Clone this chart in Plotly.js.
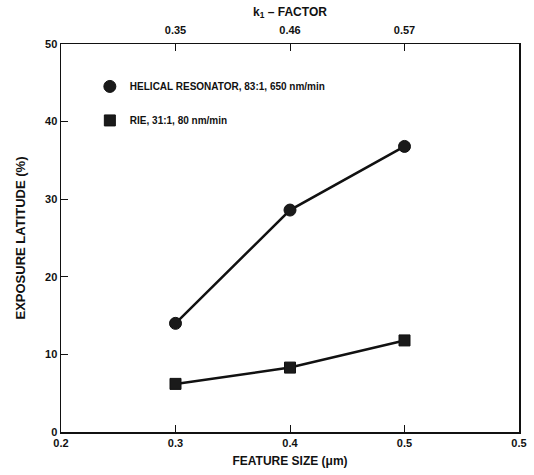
<!DOCTYPE html>
<html>
<head>
<meta charset="utf-8">
<script src="https://cdn.plot.ly/plotly-3.0.1.min.js"></script>
<style>html,body{margin:0;padding:0;background:#fff;}#chart{width:534px;height:475px;}</style>
</head>
<body>
<div id="chart"></div>
<script>
const featureSize = [0.3, 0.4, 0.5];
const helical = [14.0, 28.6, 36.8];
const rie = [6.2, 8.3, 11.8];
const seriesNames = ['HELICAL RESONATOR, 83:1, 650 nm/min', 'RIE, 31:1, 80 nm/min'];
const bottomTickVals = [0.2, 0.3, 0.4, 0.5, 0.6];
const bottomTickText = ['0.2', '0.3', '0.4', '0.5', '0.5'];
const k1TickVals = [0.3, 0.4, 0.5];
const k1TickText = ['0.35', '0.46', '0.57'];
const yTickVals = [0, 10, 20, 30, 40, 50];

const fontFam = 'Liberation Sans, Arial, sans-serif';
const tickFont = {family: fontFam, size: 11, color: '#111', weight: 'bold'};
const circleMarker = {symbol: 'circle', size: 12, color: '#1a1a1a', line: {color: '#111', width: 1}};
const squareMarker = {symbol: 'square', size: 11, color: '#1a1a1a', line: {color: '#111', width: 1}};

const traces = [
  {
    x: featureSize, y: helical, name: seriesNames[0], type: 'scatter', mode: 'lines+markers',
    line: {color: '#111', width: 2.5}, marker: circleMarker, showlegend: false
  },
  {
    x: featureSize, y: rie, name: seriesNames[1], type: 'scatter', mode: 'lines+markers',
    line: {color: '#111', width: 2.5}, marker: squareMarker, showlegend: false
  },
  {
    x: [null], y: [null], name: seriesNames[0], type: 'scatter', mode: 'markers',
    marker: circleMarker, legendgroup: 'a', showlegend: true
  },
  {
    x: [null], y: [null], name: seriesNames[1], type: 'scatter', mode: 'markers',
    marker: squareMarker, legendgroup: 'b', showlegend: true
  },
  {
    x: featureSize, y: helical, xaxis: 'x2', type: 'scatter', mode: 'markers',
    marker: {opacity: 0}, showlegend: false, hoverinfo: 'skip'
  }
];

const layout = {
  width: 534, height: 475,
  margin: {l: 61, r: 15, t: 44, b: 43},
  paper_bgcolor: '#fff', plot_bgcolor: '#fff',
  font: {family: fontFam, color: '#111'},
  showlegend: true,
  legend: {
    x: 0.063, y: 0.928, xanchor: 'left', yanchor: 'top',
    bgcolor: 'rgba(0,0,0,0)', traceorder: 'grouped', tracegroupgap: 15,
    font: {family: fontFam, size: 10, color: '#111', weight: 'bold'},
    itemwidth: 30
  },
  xaxis: {
    range: [0.2, 0.6], tickvals: bottomTickVals, ticktext: bottomTickText,
    ticks: 'inside', ticklen: 7, tickcolor: '#111', tickwidth: 1,
    showline: true, linecolor: '#111', linewidth: 1.5, mirror: false,
    showgrid: false, zeroline: false, tickfont: tickFont,
    title: {text: 'FEATURE SIZE (μm)', font: {family: fontFam, size: 12, color: '#111', weight: 'bold'}, standoff: 9}
  },
  xaxis2: {
    overlaying: 'x', side: 'top', range: [0.2, 0.6],
    tickvals: k1TickVals, ticktext: k1TickText,
    ticks: 'inside', ticklen: 7, tickcolor: '#111', tickwidth: 1,
    showline: true, linecolor: '#111', linewidth: 1.5,
    showgrid: false, zeroline: false, tickfont: tickFont, ticklabelstandoff: 4,
    title: {text: 'k<sub>1</sub> – FACTOR', font: {family: fontFam, size: 12, color: '#111', weight: 'bold'}, standoff: 5}
  },
  yaxis: {
    range: [0, 50], tickvals: yTickVals,
    ticks: 'inside', ticklen: 7, tickcolor: '#111', tickwidth: 1,
    showline: true, linecolor: '#111', linewidth: 1.5, mirror: true,
    showgrid: false, zeroline: false, tickfont: tickFont,
    title: {text: 'EXPOSURE LATITUDE (%)', font: {family: fontFam, size: 13, color: '#111', weight: 'bold'}, standoff: 16}
  }
};

Plotly.newPlot('chart', traces, layout, {displayModeBar: false, staticPlot: true});
</script>
</body>
</html>
